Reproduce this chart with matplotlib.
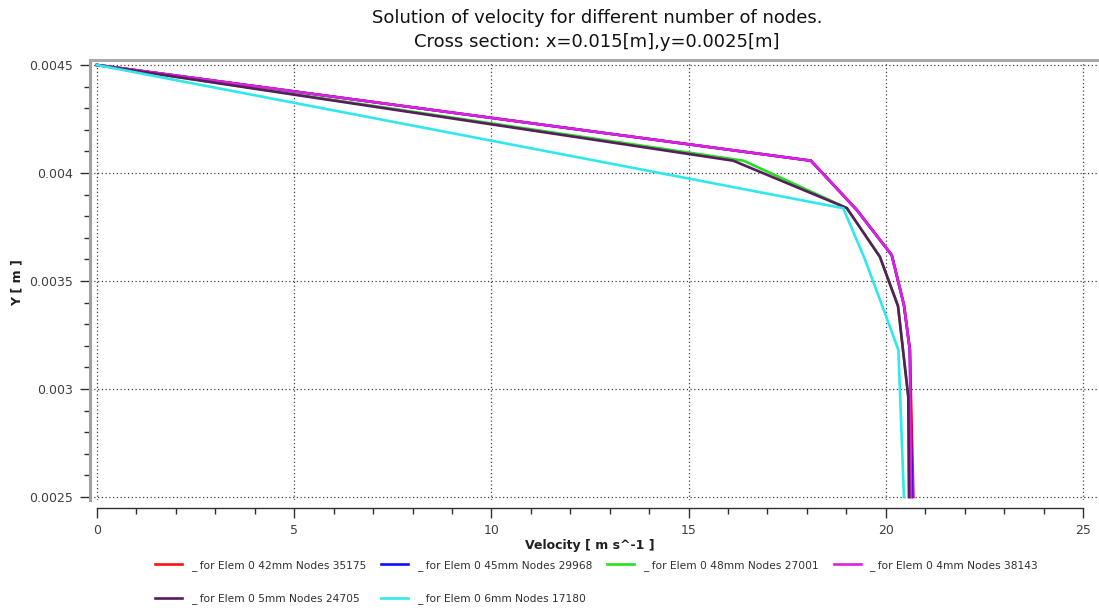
import matplotlib
matplotlib.use("Agg")
import matplotlib.pyplot as plt
from matplotlib.ticker import MultipleLocator, FuncFormatter
from matplotlib.lines import Line2D

# Velocity profiles (x: velocity [m/s], y: position [m]) for each mesh
labels = [
    "_ for Elem 0 42mm Nodes 35175",
    "_ for Elem 0 45mm Nodes 29968",
    "_ for Elem 0 48mm Nodes 27001",
    "_ for Elem 0 4mm Nodes 38143",
    "_ for Elem 0 5mm Nodes 24705",
    "_ for Elem 0 6mm Nodes 17180",
]
colors = ["#ff1010", "#1010ff", "#22e022", "#e020e0", "#5a1c5c", "#30e8ec"]

vel_42 = [0.0, 18.10, 19.26, 20.15, 20.46, 20.61, 20.70]
y_42 = [0.0045, 0.004057, 0.003830, 0.003620, 0.003389, 0.003181, 0.0025]

vel_45 = [0.0, 18.10, 19.26, 20.15, 20.46, 20.61, 20.66]
y_45 = [0.0045, 0.004057, 0.003830, 0.003620, 0.003389, 0.003181, 0.0025]

vel_48 = [0.0, 16.39, 19.01, 19.85, 20.31, 20.57, 20.59]
y_48 = [0.0045, 0.004057, 0.003838, 0.003612, 0.003384, 0.002964, 0.0025]

vel_4 = [0.0, 18.10, 19.26, 20.15, 20.46, 20.61, 20.64]
y_4 = [0.0045, 0.004057, 0.003830, 0.003620, 0.003389, 0.003181, 0.0025]

vel_5 = [0.0, 16.13, 19.01, 19.85, 20.31, 20.57, 20.59]
y_5 = [0.0045, 0.004057, 0.003838, 0.003612, 0.003384, 0.002964, 0.0025]

vel_6 = [0.0, 18.92, 19.45, 19.90, 20.32, 20.46]
y_6 = [0.0045, 0.003837, 0.003610, 0.003390, 0.003180, 0.0025]

series = [(vel_42, y_42), (vel_45, y_45), (vel_48, y_48),
          (vel_4, y_4), (vel_5, y_5), (vel_6, y_6)]

W, H = 1099, 610
fig = plt.figure(figsize=(W / 100, H / 100), dpi=100)
fig.patch.set_facecolor("white")

# plot area in pixel terms
left_px, right_px, top_px, bot_px = 90, 1097, 60, 500
ax = fig.add_axes([left_px / W, 1 - bot_px / H,
                   (right_px - left_px) / W, (bot_px - top_px) / H])

px_per_x = (1083 - 97) / 25.0
px_per_y = (497 - 65) / 0.002
ax.set_xlim(-(97 - left_px) / px_per_x, 25 + (right_px - 1083) / px_per_x)
ax.set_ylim(0.0025 - (bot_px - 497) / px_per_y, 0.0045 + (65 - top_px) / px_per_y)

for (vx, vy), c in zip(series, colors):
    ax.plot(vx, vy, color=c, lw=1.9, solid_joinstyle="miter")

# grid
ax.xaxis.set_major_locator(MultipleLocator(5))
ax.xaxis.set_minor_locator(MultipleLocator(1))
ax.yaxis.set_major_locator(MultipleLocator(0.0005))
ax.yaxis.set_minor_locator(MultipleLocator(0.0001))
ax.grid(True, which="major", linestyle=(0, (1, 2)), color="#404040", lw=0.9)
ax.set_axisbelow(True)

# spines
ax.spines["right"].set_visible(False)
ax.spines["top"].set_color("#a8a8a8")
ax.spines["top"].set_linewidth(2.2)
ax.spines["left"].set_color("#a0a0a0")
ax.spines["left"].set_linewidth(2.2)
ax.spines["bottom"].set_position(("outward", 6))
ax.spines["bottom"].set_bounds(0, 25)
ax.spines["bottom"].set_color("#303030")
ax.spines["bottom"].set_linewidth(1.0)

ax.tick_params(axis="x", which="major", direction="out", length=7, width=1,
               color="#303030", labelsize=9, labelcolor="#404040", pad=4)
ax.tick_params(axis="x", which="minor", direction="out", length=4, width=1,
               color="#303030")
ax.tick_params(axis="y", which="major", direction="out", length=7, width=1,
               color="#303030", labelsize=9, labelcolor="#404040", pad=5)
ax.tick_params(axis="y", which="minor", direction="out", length=4, width=1,
               color="#303030")
ax.yaxis.set_major_formatter(FuncFormatter(lambda v, p: "%g" % round(v, 6)))
ax.xaxis.set_major_formatter(FuncFormatter(lambda v, p: "%g" % v))

# titles and axis labels
fig.text(597 / W, 1 - 18 / H, "Solution of velocity for different number of nodes.",
         ha="center", va="center", fontsize=13, color="#111111")
fig.text(597 / W, 1 - 42 / H, "Cross section: x=0.015[m],y=0.0025[m]",
         ha="center", va="center", fontsize=13, color="#111111")
fig.text(590 / W, 1 - 545 / H, "Velocity [ m s^-1 ]", ha="center", va="center",
         fontsize=9, fontweight="bold", color="#202020")
fig.text(17 / W, 1 - 283 / H, "Y [ m ]", ha="center", va="center", rotation=90,
         fontsize=9, fontweight="bold", color="#202020")

# legend laid out row by row (matplotlib fills columns first)
order = [0, 4, 1, 5, 2, 3]
handles = [Line2D([], [], color=colors[i], lw=1.9) for i in order]
leg = fig.legend(handles, [labels[i] for i in order], ncol=4, loc="upper left",
                 bbox_to_anchor=(155 / W, 1 - 560 / H), frameon=False,
                 fontsize=7.7, handlelength=2.5, handletextpad=0.85,
                 columnspacing=1.4, labelspacing=2.1, borderpad=0,
                 borderaxespad=0)
for t in leg.get_texts():
    t.set_color("#303030")

fig.savefig("out.png", dpi=100, facecolor="white")
